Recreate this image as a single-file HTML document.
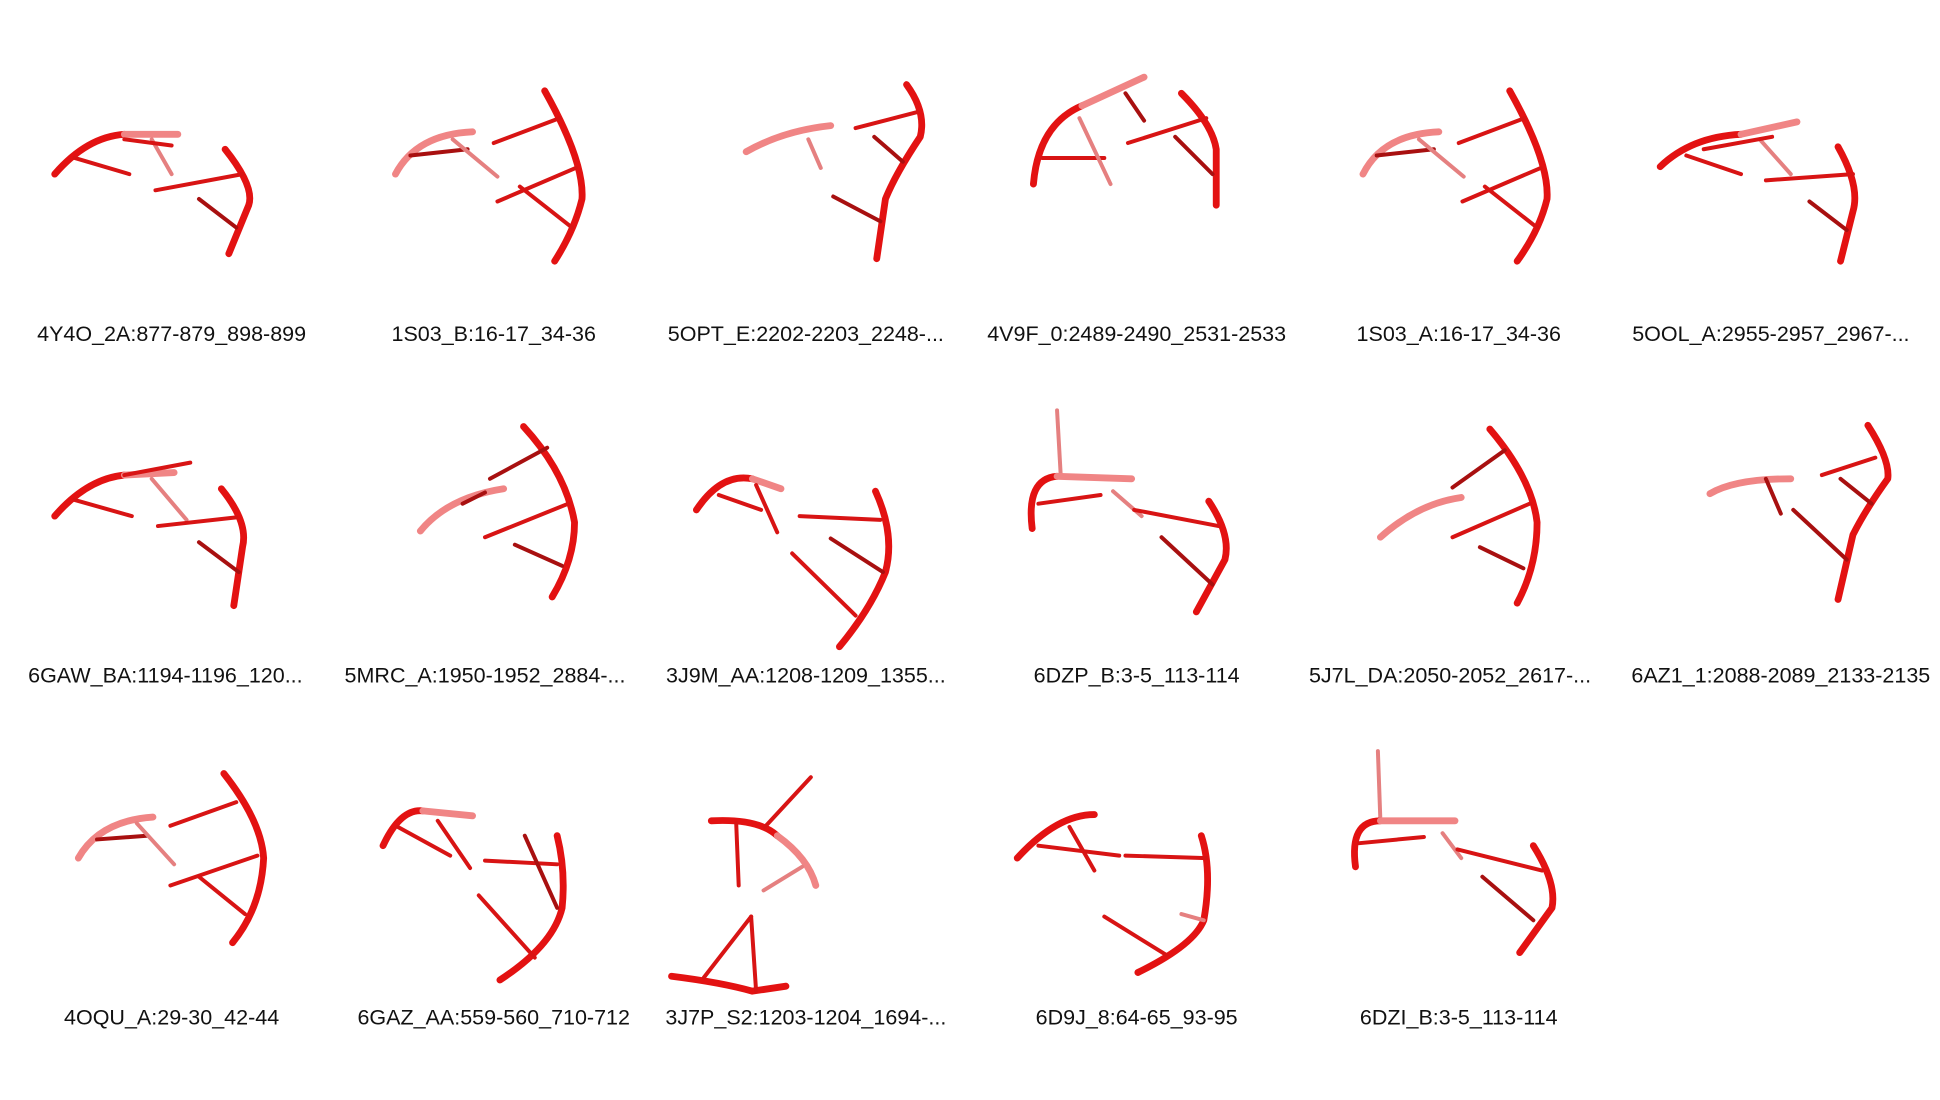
<!DOCTYPE html>
<html><head><meta charset="utf-8"><style>
html,body{margin:0;padding:0;background:#fff;}
svg{display:block}
text{font-family:"Liberation Sans",sans-serif;font-size:17.3px;fill:#111;text-anchor:middle}
.bb{fill:none;stroke:#e31212;stroke-width:5.5;stroke-linecap:round;stroke-linejoin:round}
.lt{fill:none;stroke:#f08585;stroke-width:5.5;stroke-linecap:round}
.r{stroke:#d81414;stroke-width:3.2;stroke-linecap:round}
.rf{stroke:#e58080;stroke-width:3.2;stroke-linecap:round}
.rd{stroke:#a81010;stroke-width:3.2;stroke-linecap:round}
</style></head><body>
<svg width="1940" height="1100" viewBox="0 0 1560 884.5">
<g>
<path class="bb" d="M44,140 Q70,110 100,108"/><path class="lt" d="M100,108 L143,108"/>
<line class="r" x1="60" y1="127" x2="104" y2="140"/><line class="rf" x1="122" y1="112" x2="138" y2="140"/><line class="r" x1="100" y1="112" x2="138" y2="117"/>
<path class="bb" d="M181,120 Q205,150 200,165 L184,204"/>
<line class="r" x1="125" y1="153" x2="195" y2="140"/><line class="rd" x1="160" y1="160" x2="190" y2="183"/>
<text x="138" y="274">4Y4O_2A:877-879_898-899</text></g>
<g>
<path class="lt" d="M318,140 Q335,108 380,106"/>
<line class="rd" x1="330" y1="125" x2="376" y2="120"/><line class="rf" x1="364" y1="112" x2="400" y2="142"/>
<path class="bb" d="M438,73 Q470,130 468,160 Q462,185 446,210"/>
<line class="r" x1="397" y1="115" x2="450" y2="95"/><line class="r" x1="400" y1="162" x2="463" y2="135"/><line class="r" x1="418" y1="150" x2="460" y2="183"/>
<text x="397" y="274">1S03_B:16-17_34-36</text></g>
<g>
<path class="lt" d="M600,122 Q630,105 668,101"/>
<line class="rf" x1="650" y1="112" x2="660" y2="135"/>
<path class="bb" d="M729,68 Q745,90 740,110 Q720,140 712,160 L705,208"/>
<line class="r" x1="688" y1="103" x2="738" y2="90"/><line class="rd" x1="703" y1="110" x2="726" y2="130"/><line class="rd" x1="670" y1="158" x2="708" y2="178"/>
<text x="648" y="274">5OPT_E:2202-2203_2248-...</text></g>
<g>
<path class="bb" d="M831,148 Q835,100 870,85"/><path class="lt" d="M870,85 L920,62"/>
<line class="r" x1="838" y1="127" x2="888" y2="127"/><line class="rf" x1="868" y1="95" x2="893" y2="148"/><line class="rd" x1="905" y1="75" x2="920" y2="97"/>
<path class="bb" d="M950,75 Q975,100 978,120 L978,165"/>
<line class="r" x1="907" y1="115" x2="970" y2="95"/><line class="rd" x1="945" y1="110" x2="975" y2="140"/>
<text x="914" y="274">4V9F_0:2489-2490_2531-2533</text></g>
<g>
<path class="lt" d="M1096,140 Q1112,108 1157,106"/>
<line class="rd" x1="1107" y1="125" x2="1153" y2="120"/><line class="rf" x1="1141" y1="112" x2="1177" y2="142"/>
<path class="bb" d="M1214,73 Q1246,130 1244,160 Q1238,185 1220,210"/>
<line class="r" x1="1173" y1="115" x2="1226" y2="95"/><line class="r" x1="1176" y1="162" x2="1239" y2="135"/><line class="r" x1="1194" y1="150" x2="1236" y2="183"/>
<text x="1173" y="274">1S03_A:16-17_34-36</text></g>
<g>
<path class="bb" d="M1335,134 Q1360,110 1400,108"/><path class="lt" d="M1400,108 L1445,98"/>
<line class="r" x1="1356" y1="125" x2="1400" y2="140"/><line class="rf" x1="1415" y1="112" x2="1440" y2="140"/><line class="r" x1="1370" y1="120" x2="1425" y2="110"/>
<path class="bb" d="M1478,118 Q1496,150 1490,170 L1480,210"/>
<line class="r" x1="1420" y1="145" x2="1490" y2="140"/><line class="rd" x1="1455" y1="162" x2="1485" y2="185"/>
<text x="1424" y="274">5OOL_A:2955-2957_2967-...</text></g>

<g>
<path class="bb" d="M44,415 Q70,385 100,382"/><path class="lt" d="M100,382 L140,380"/>
<line class="r" x1="60" y1="402" x2="106" y2="415"/><line class="rf" x1="122" y1="385" x2="150" y2="418"/><line class="r" x1="100" y1="382" x2="153" y2="372"/>
<path class="bb" d="M178,393 Q200,420 195,440 L188,487"/>
<line class="r" x1="127" y1="423" x2="190" y2="416"/><line class="rd" x1="160" y1="436" x2="192" y2="460"/>
<text x="133" y="549">6GAW_BA:1194-1196_120...</text></g>
<g>
<path class="lt" d="M338,427 Q360,400 405,393"/>
<line class="rd" x1="372" y1="405" x2="390" y2="396"/>
<path class="bb" d="M421,343 Q455,380 462,420 Q462,450 444,480"/>
<line class="rd" x1="394" y1="385" x2="440" y2="360"/><line class="r" x1="390" y1="432" x2="457" y2="405"/><line class="rd" x1="414" y1="438" x2="452" y2="455"/>
<text x="390" y="549">5MRC_A:1950-1952_2884-...</text></g>
<g>
<path class="bb" d="M560,410 Q580,380 605,385"/><path class="lt" d="M605,385 L628,393"/>
<line class="r" x1="578" y1="398" x2="612" y2="410"/><line class="r" x1="608" y1="390" x2="625" y2="428"/>
<path class="bb" d="M704,395 Q720,430 712,460 Q700,490 675,520"/>
<line class="r" x1="643" y1="415" x2="708" y2="418"/><line class="rd" x1="668" y1="433" x2="710" y2="460"/><line class="r" x1="637" y1="445" x2="688" y2="495"/>
<text x="648" y="549">3J9M_AA:1208-1209_1355...</text></g>
<g>
<line class="rf" x1="850" y1="330" x2="853" y2="383"/>
<path class="bb" d="M830,425 Q825,385 850,383"/><path class="lt" d="M850,383 L910,385"/>
<line class="r" x1="835" y1="405" x2="885" y2="398"/><line class="rf" x1="895" y1="395" x2="918" y2="415"/>
<path class="bb" d="M972,403 Q990,430 985,450 L962,492"/>
<line class="r" x1="912" y1="410" x2="980" y2="423"/><line class="rd" x1="934" y1="432" x2="975" y2="470"/>
<text x="914" y="549">6DZP_B:3-5_113-114</text></g>
<g>
<path class="lt" d="M1110,432 Q1140,405 1175,400"/>
<path class="bb" d="M1198,345 Q1232,385 1236,420 Q1236,455 1220,485"/>
<line class="rd" x1="1168" y1="392" x2="1210" y2="362"/><line class="r" x1="1168" y1="432" x2="1230" y2="405"/><line class="rd" x1="1190" y1="440" x2="1225" y2="457"/>
<text x="1166" y="549">5J7L_DA:2050-2052_2617-...</text></g>
<g>
<path class="lt" d="M1375,397 Q1395,385 1440,385"/>
<line class="rd" x1="1420" y1="385" x2="1432" y2="413"/>
<path class="bb" d="M1502,342 Q1520,370 1518,385 Q1500,410 1490,430 L1478,482"/>
<line class="r" x1="1465" y1="382" x2="1508" y2="368"/><line class="rd" x1="1480" y1="385" x2="1505" y2="405"/><line class="rd" x1="1442" y1="410" x2="1485" y2="450"/>
<text x="1432" y="549">6AZ1_1:2088-2089_2133-2135</text></g>

<g>
<path class="lt" d="M63,690 Q80,660 123,657"/>
<line class="rd" x1="78" y1="675" x2="118" y2="672"/><line class="rf" x1="110" y1="662" x2="140" y2="695"/>
<path class="bb" d="M180,622 Q210,660 212,690 Q210,730 187,758"/>
<line class="r" x1="137" y1="664" x2="190" y2="645"/><line class="r" x1="137" y1="712" x2="207" y2="688"/><line class="r" x1="160" y1="705" x2="197" y2="735"/>
<text x="138" y="824">4OQU_A:29-30_42-44</text></g>
<g>
<path class="bb" d="M308,680 Q322,650 340,652"/><path class="lt" d="M340,652 L380,656"/>
<line class="r" x1="320" y1="665" x2="362" y2="688"/><line class="r" x1="352" y1="660" x2="378" y2="698"/>
<path class="bb" d="M448,672 Q455,700 452,730 Q445,760 402,788"/>
<line class="r" x1="390" y1="692" x2="448" y2="695"/><line class="rd" x1="422" y1="672" x2="448" y2="730"/><line class="r" x1="385" y1="720" x2="430" y2="770"/>
<text x="397" y="824">6GAZ_AA:559-560_710-712</text></g>
<g>
<path class="bb" d="M572,660 Q610,658 625,672"/><path class="lt" d="M625,672 Q650,690 656,712"/>
<line class="r" x1="592" y1="662" x2="594" y2="712"/><line class="r" x1="615" y1="665" x2="652" y2="625"/><line class="rf" x1="614" y1="716" x2="645" y2="697"/>
<path class="bb" d="M540,785 Q580,790 605,797 L632,793"/>
<line class="r" x1="566" y1="786" x2="604" y2="737"/><line class="r" x1="604" y1="737" x2="608" y2="797"/>
<text x="648" y="824">3J7P_S2:1203-1204_1694-...</text></g>
<g>
<path class="bb" d="M818,690 Q850,655 880,655"/>
<line class="r" x1="835" y1="680" x2="900" y2="688"/><line class="r" x1="860" y1="665" x2="880" y2="700"/>
<path class="bb" d="M966,672 Q975,700 968,740 Q960,760 915,782"/>
<line class="r" x1="905" y1="688" x2="970" y2="690"/><line class="r" x1="888" y1="737" x2="938" y2="768"/><line class="rf" x1="950" y1="735" x2="968" y2="740"/>
<text x="914" y="824">6D9J_8:64-65_93-95</text></g>
<g>
<line class="rf" x1="1108" y1="604" x2="1110" y2="660"/>
<path class="bb" d="M1090,697 Q1085,660 1110,660"/><path class="lt" d="M1110,660 L1170,660"/>
<line class="r" x1="1093" y1="678" x2="1145" y2="673"/><line class="rf" x1="1160" y1="670" x2="1175" y2="690"/>
<path class="bb" d="M1233,680 Q1252,710 1248,730 L1222,766"/>
<line class="r" x1="1172" y1="683" x2="1240" y2="700"/><line class="rd" x1="1192" y1="705" x2="1233" y2="740"/>
<text x="1173" y="824">6DZI_B:3-5_113-114</text></g>
</svg>
</body></html>
